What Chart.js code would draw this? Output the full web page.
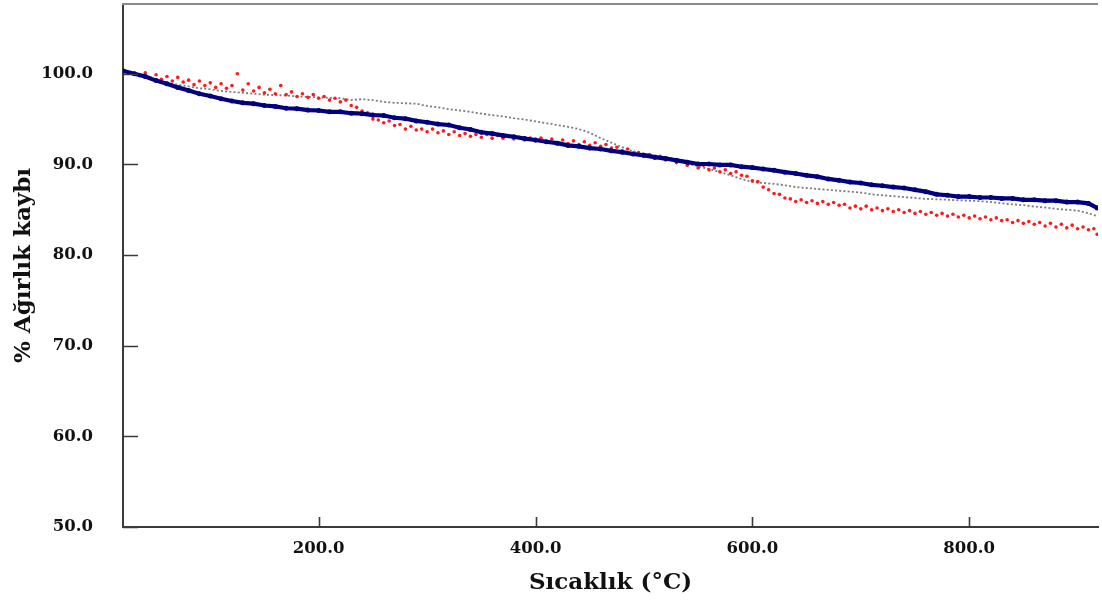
<!DOCTYPE html>
<html>
<head>
<meta charset="utf-8">
<title>TGA</title>
<script src="https://cdn.jsdelivr.net/npm/chart.js@4/dist/chart.umd.min.js"></script>
<style>
  html, body { margin: 0; padding: 0; background: #ffffff; }
  #wrap { width: 1102px; height: 605px; position: relative; }
</style>
</head>
<body>
<div id="wrap"><canvas id="tga"></canvas></div>
<script>
// Tick positions
const xTicks = [200, 400, 600, 800];
const yTicks = [50, 60, 70, 80, 90, 100];

// Navy series: temperature (°C) and % weight
const navyT = [20, 30, 40, 50, 60, 70, 80, 90, 100, 110, 120, 130, 140, 150, 160, 170, 180, 190, 200,
  210, 220, 230, 240, 250, 260, 270, 280, 290, 300, 310, 320, 330, 340, 350, 360, 370, 380, 390, 400,
  410, 420, 430, 440, 450, 460, 470, 480, 490, 500, 510, 520, 530, 540, 550, 560, 570, 580, 590, 600,
  610, 620, 630, 640, 650, 660, 670, 680, 690, 700, 710, 720, 730, 740, 750, 760, 770, 780, 790, 800,
  810, 820, 830, 840, 850, 860, 870, 880, 890, 900, 910, 918];
const navyW = [100.3, 100.0, 99.7, 99.25, 98.9, 98.5, 98.15, 97.8, 97.55, 97.25, 97.0, 96.8, 96.7, 96.5, 96.4, 96.2, 96.15, 96.0, 95.95,
  95.8, 95.8, 95.65, 95.6, 95.45, 95.4, 95.15, 95.05, 94.8, 94.65, 94.45, 94.35, 94.05, 93.85, 93.55, 93.4, 93.2, 93.05, 92.85, 92.7,
  92.5, 92.35, 92.1, 92.0, 91.8, 91.7, 91.5, 91.35, 91.15, 91.0, 90.8, 90.65, 90.45, 90.25, 90.05, 90.05, 89.95, 89.95, 89.75, 89.65,
  89.5, 89.35, 89.15, 89.0, 88.8, 88.65, 88.4, 88.25, 88.05, 87.95, 87.75, 87.65, 87.5, 87.4, 87.2, 87.0, 86.7, 86.6, 86.45, 86.45,
  86.35, 86.35, 86.25, 86.25, 86.1, 86.1, 86.0, 86.0, 85.85, 85.85, 85.7, 85.2];

// Red series
const redT = [35, 40, 45, 50, 55, 60, 65, 70, 75, 80, 85, 90, 95, 100, 105, 110, 115, 120, 125, 130,
  135, 140, 145, 150, 155, 160, 165, 170, 175, 180, 185, 190, 195, 200, 205, 210, 215, 220, 225, 230,
  235, 240, 245, 250, 255, 260, 265, 270, 275, 280, 285, 290, 295, 300, 305, 310, 315, 320, 325, 330,
  335, 340, 345, 350, 355, 360, 365, 370, 375, 380, 385, 390, 395, 400, 405, 410, 415, 420, 425, 430,
  435, 440, 445, 450, 455, 460, 465, 470, 475, 480, 485, 490, 495, 500, 505, 510, 515, 520, 525, 530,
  535, 540, 545, 550, 555, 560, 565, 570, 575, 580, 585, 590, 595, 600, 605, 610, 615, 620, 625, 630,
  635, 640, 645, 650, 655, 660, 665, 670, 675, 680, 685, 690, 695, 700, 705, 710, 715, 720, 725, 730,
  735, 740, 745, 750, 755, 760, 765, 770, 775, 780, 785, 790, 795, 800, 805, 810, 815, 820, 825, 830,
  835, 840, 845, 850, 855, 860, 865, 870, 875, 880, 885, 890, 895, 900, 905, 910, 915, 918];
const redW = [99.8, 100.1, 99.5, 99.9, 99.4, 99.7, 99.2, 99.6, 99.1, 99.3, 98.8, 99.2, 98.7, 99.0, 98.5, 98.9, 98.4, 98.7, 100.0, 98.2,
  98.9, 98.1, 98.5, 97.9, 98.3, 97.8, 98.7, 97.7, 98.0, 97.5, 97.8, 97.4, 97.7, 97.3, 97.5, 97.1, 97.3, 96.9, 97.1, 96.5,
  96.3, 95.9, 95.7, 95.0, 94.9, 94.6, 94.8, 94.3, 94.4, 93.9, 94.2, 93.8, 93.9, 93.6, 93.9, 93.5, 93.7, 93.3, 93.6, 93.2,
  93.4, 93.1, 93.3, 93.0, 93.3, 92.9, 93.2, 92.9, 93.1, 92.8, 93.0, 92.7, 92.9, 92.6, 92.9, 92.5, 92.8, 92.4, 92.7, 92.3,
  92.6, 92.2, 92.5, 92.1, 92.4, 92.0, 92.2, 91.8, 91.9, 91.5, 91.7, 91.2, 91.3, 90.9, 91.1, 90.7, 90.9, 90.5, 90.6, 90.2,
  90.4, 89.9, 90.1, 89.6, 89.9, 89.4, 89.6, 89.2, 89.4, 89.0, 89.2, 88.8, 88.7, 88.2, 88.1, 87.5, 87.2, 86.8, 86.7, 86.3,
  86.2, 85.9, 86.1, 85.8, 86.0, 85.7, 85.9, 85.6, 85.8, 85.5, 85.6, 85.2, 85.4, 85.1, 85.4, 85.0, 85.2, 84.9, 85.1, 84.8,
  85.0, 84.7, 84.9, 84.6, 84.8, 84.5, 84.7, 84.4, 84.6, 84.3, 84.5, 84.2, 84.4, 84.1, 84.3, 84.0, 84.2, 83.9, 84.1, 83.8,
  83.9, 83.6, 83.8, 83.5, 83.7, 83.4, 83.6, 83.2, 83.5, 83.1, 83.4, 83.0, 83.3, 82.9, 83.1, 82.8, 82.9, 82.3];

// Grey series
const greyT = [30, 40, 50, 60, 70, 80, 90, 100, 110, 120, 130, 140, 150, 160, 170, 180, 190, 200,
  210, 220, 230, 240, 250, 260, 270, 280, 290, 300, 310, 320, 330, 340, 350, 360, 370, 380, 390, 400,
  410, 420, 430, 440, 450, 460, 470, 480, 490, 500, 510, 520, 530, 540, 550, 560, 570, 580, 590, 600,
  610, 620, 630, 640, 650, 660, 670, 680, 690, 700, 710, 720, 730, 740, 750, 760, 770, 780, 790, 800,
  810, 820, 830, 840, 850, 860, 870, 880, 890, 900, 910, 918];
const greyW = [99.9, 99.6, 99.3, 99.0, 98.8, 98.6, 98.4, 98.3, 98.1, 98.0, 97.9, 97.8, 97.7, 97.65, 97.6, 97.5, 97.45, 97.4,
  97.35, 97.3, 97.1, 97.2, 97.1, 96.9, 96.8, 96.75, 96.7, 96.45, 96.3, 96.1, 95.95, 95.8, 95.6, 95.45, 95.3, 95.1, 94.95, 94.75,
  94.55, 94.35, 94.15, 93.9, 93.5, 92.9, 92.4, 91.9, 91.45, 91.2, 91.0, 90.8, 90.5, 90.1, 89.8, 89.5, 89.15, 88.8, 88.4, 88.05,
  87.95, 87.85, 87.7, 87.5, 87.4, 87.3, 87.2, 87.1, 87.0, 86.9, 86.7, 86.6, 86.5, 86.4, 86.3, 86.2, 86.15, 86.1, 86.05, 86.0,
  85.95, 85.85, 85.7, 85.6, 85.5, 85.35, 85.25, 85.1, 85.0, 84.9, 84.6, 84.3];

const pts = (xs, ys) => xs.map((x, i) => ({ x: x, y: ys[i] }));

const FONT = "'DejaVu Serif', 'Liberation Serif', serif";

// Keep the plot area flush with the fixed axis sizes
function fixBox(size, prop) {
  return function (scale) {
    scale[prop] = size;
    scale.paddingTop = 0;
    scale.paddingBottom = 0;
    scale.paddingLeft = 0;
    scale.paddingRight = 0;
  };
}

// Frame: top line plus inward tick marks on both axes
const framePlugin = {
  id: 'frame',
  afterDraw(chart) {
    const { ctx, chartArea } = chart;
    const { left, right, top, bottom } = chartArea;
    ctx.save();
    ctx.strokeStyle = '#8a8a8a';
    ctx.lineWidth = 2;
    ctx.beginPath();
    ctx.moveTo(left - 1, top);
    ctx.lineTo(right, top);
    ctx.stroke();
    ctx.strokeStyle = '#3a3a3a';
    ctx.lineWidth = 1.6;
    ctx.beginPath();
    yTicks.forEach(v => {
      const y = Math.round(chart.scales.y.getPixelForValue(v)) + 0.5;
      ctx.moveTo(left, y);
      ctx.lineTo(left + 15, y);
    });
    xTicks.forEach(v => {
      const x = Math.round(chart.scales.x.getPixelForValue(v)) + 0.5;
      ctx.moveTo(x, bottom);
      ctx.lineTo(x, bottom - 10);
    });
    ctx.stroke();
    ctx.restore();
  }
};

new Chart(document.getElementById('tga'), {
  type: 'scatter',
  data: {
    datasets: [
      {
        label: 'grey',
        data: pts(greyT, greyW),
        showLine: true,
        borderColor: '#7c7c7c',
        borderWidth: 1.8,
        borderDash: [2, 2.2],
        pointRadius: 0,
        order: 3
      },
      {
        label: 'red',
        data: pts(redT, redW),
        showLine: false,
        backgroundColor: '#ff1a1a',
        borderWidth: 0,
        pointRadius: 1.8,
        order: 2
      },
      {
        label: 'navy',
        data: pts(navyT, navyW),
        showLine: true,
        borderColor: '#00007f',
        borderWidth: 4.2,
        backgroundColor: '#00007f',
        pointBorderWidth: 0,
        pointRadius: 2.5,
        tension: 0,
        order: 1
      }
    ]
  },
  options: {
    responsive: true,
    maintainAspectRatio: false,
    animation: false,
    layout: { padding: { top: 3, right: 0, left: 0, bottom: 0 } },
    plugins: {
      legend: { display: false },
      tooltip: { enabled: false }
    },
    scales: {
      x: {
        type: 'linear',
        min: 19.5,
        max: 918.8,
        afterFit: fixBox(78, 'height'),
        afterBuildTicks(scale) { scale.ticks = xTicks.map(v => ({ value: v })); },
        grid: { display: false, drawTicks: false },
        border: { display: true, color: '#3a3a3a', width: 2 },
        ticks: {
          padding: 12,
          color: '#111111',
          font: { family: FONT, size: 16.5, weight: 'bold' },
          callback: v => Number(v).toFixed(1)
        },
        title: {
          display: true,
          text: 'Sıcaklık (°C)',
          color: '#111111',
          font: { family: FONT, size: 23, weight: 'bold' },
          padding: { top: 0, bottom: 8 }
        }
      },
      y: {
        type: 'linear',
        min: 50,
        max: 107.7,
        afterFit: fixBox(123, 'width'),
        afterBuildTicks(scale) { scale.ticks = yTicks.map(v => ({ value: v })); },
        grid: { display: false, drawTicks: false },
        border: { display: true, color: '#3a3a3a', width: 2 },
        ticks: {
          padding: 30,
          color: '#111111',
          font: { family: FONT, size: 16.5, weight: 'bold' },
          callback: v => Number(v).toFixed(1)
        },
        title: {
          display: true,
          text: '% Ağırlık kaybı',
          color: '#111111',
          font: { family: FONT, size: 23, weight: 'bold' },
          padding: { top: 10, bottom: 0 }
        }
      }
    }
  },
  plugins: [framePlugin]
});
</script>
</body>
</html>
